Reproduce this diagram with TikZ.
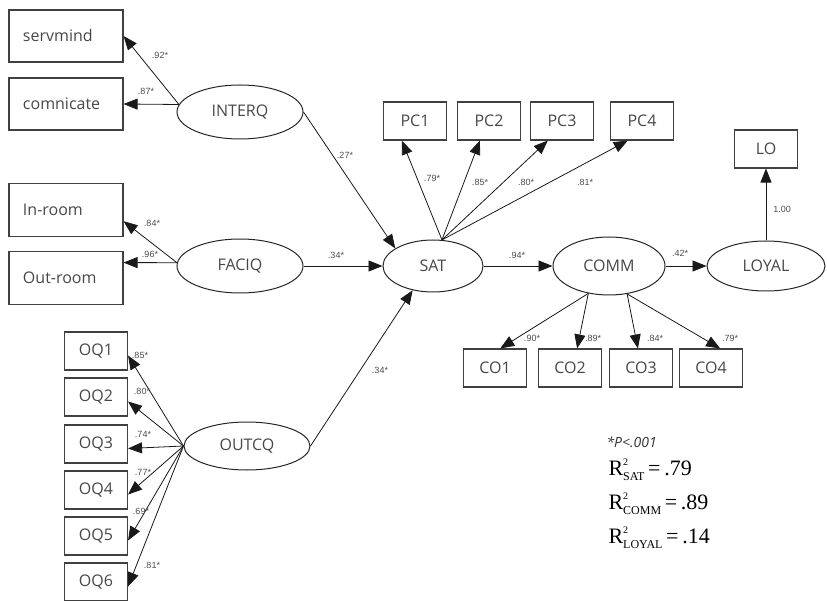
\documentclass[tikz,border=0pt]{standalone}
\usepackage{fontspec}
\setmainfont{Open Sans}
\newfontfamily\arialfont{Liberation Sans}
\newfontfamily\timesfont{Liberation Serif}
\usetikzlibrary{arrows.meta,shapes.geometric}
\newcommand{\rsq}[2]{\timesfont R\rlap{\raisebox{10pt}{\fontsize{10}{10}\selectfont 2}}\raisebox{-5pt}{\fontsize{12}{12}\selectfont #1}\,=\,#2}

\begin{document}
\begin{tikzpicture}[x=1pt, y=-1pt,
  obs/.style={draw=black!75, line width=1.1pt, minimum width=63pt, minimum height=38pt,
    inner sep=0pt, text=black!72, font=\fontsize{16}{18}\selectfont},
  wide/.style={obs, minimum width=114pt, minimum height=53pt, text width=86pt,
    align=left, inner xsep=14pt},
  lat/.style={ellipse, draw=black!85, line width=1pt, inner sep=0pt, text=black!72,
    font=\fontsize{16}{18}\selectfont},
  arr/.style={-{Triangle[length=14pt,width=11pt]}, line width=0.8pt, black!90},
  coef/.style={font=\arialfont\fontsize{9}{10}\selectfont, text=black!70, inner sep=1pt}]
  \useasboundingbox (0,0) rectangle (827,601);
  % observed variables
  \node[wide, minimum height=52pt] (servmind) at (66,36) {servmind};
  \node[wide, minimum height=52pt] (comnicate) at (66,104) {comnicate};
  \node[wide] (inroom) at (66,210) {In-room};
  \node[wide] (outroom) at (66,278) {Out-room};
  \foreach \i/\y in {1/351,2/397,3/444,4/490,5/536,6/582}
    \node[obs] (oq\i) at (96,\y) {OQ\i};
  \foreach \i/\x in {1/415,2/489,3/562,4/642}
    \node[obs] (pc\i) at (\x,121) {PC\i};
  \foreach \i/\x in {1/495,2/570,3/641,4/711}
    \node[obs] (co\i) at (\x,368) {CO\i};
  \node[obs] (lo) at (766,149) {LO};
  % latent variables
  \node[lat, minimum width=126pt, minimum height=54pt] (interq) at (240,112) {INTERQ};
  \node[lat, minimum width=126pt, minimum height=54pt] (faciq) at (240,266) {FACIQ};
  \node[lat, minimum width=126pt, minimum height=48pt] (outcq) at (247,446) {OUTCQ};
  \node[lat, minimum width=100pt, minimum height=52pt] (sat) at (433,266) {SAT};
  \node[lat, minimum width=112pt, minimum height=58pt] (comm) at (609,266) {COMM};
  \node[lat, minimum width=118pt, minimum height=50pt] (loyal) at (766,266) {LOYAL};
  % loadings
  \draw[arr] (interq.173) -- (servmind.east);
  \draw[arr] (interq.173) -- (comnicate.east);
  \draw[arr] (faciq.177) -- (inroom.-11);
  \draw[arr] (faciq.177) -- (outroom.15);
  \foreach \i in {1,...,6}
    \draw[arr] (outcq.west) -- (oq\i.-8);
  \foreach \i/\a in {1/-124,2/-115,3/-126,4/-126}
    \draw[arr] (sat.71) -- (pc\i.\a);
  \foreach \i/\a/\b in {1/-127/75,2/-127/70,3/-57/99,4/-57/65}
    \draw[arr] (comm.\a) -- (co\i.\b);
  \draw[arr] (loyal.north) -- (lo.south);
  % structural paths
  \draw[arr] (interq.east) -- (sat.155);
  \draw[arr] (faciq.east) -- (sat.west);
  \draw[arr] (outcq.east) -- (sat.-130);
  \draw[arr] (sat.east) -- (comm.west);
  \draw[arr] (comm.east) -- (loyal.west);
  % coefficients
  \foreach \n/\x/\y/\lab in {w1/160/55/.92*, w2/146/91/.87*, w3/152/223/.84*, w4/150/254/.96*,
      w5/345/155/.27*, w6/336/255/.34*, w7/380/370/.34*,
      q1/140/355/.85*, q2/142/391/.80*, q3/143/434/.74*, q4/143/472/.77*, q5/141/511/.69*, q6/152/565/.81*,
      p1/432/178/.79*, p2/480/182/.85*, p3/526/182/.80*, p4/585/182/.81*,
      s1/517/255/.94*, s2/680/253/.42*, s3/782/209/1.00,
      c1/532/338/.90*, c2/593/338/.89*, c3/655/338/.84*, c4/730/338/.79*}
    \node[coef] (\n) at (\x,\y) {\lab};
  % notes
  \node[anchor=west, font=\itshape\fontsize{14}{16}\selectfont, text=black!80] (pnote) at (603,442) {*P<.001};
  \node[anchor=west, font=\fontsize{22}{24}\selectfont] (rsat) at (605,470) {\rsq{SAT}{.79}};
  \node[anchor=west, font=\fontsize{22}{24}\selectfont] (rcomm) at (605,504) {\rsq{COMM}{.89}};
  \node[anchor=west, font=\fontsize{22}{24}\selectfont] (rloyal) at (605,538) {\rsq{LOYAL}{.14}};
\end{tikzpicture}
\end{document}
